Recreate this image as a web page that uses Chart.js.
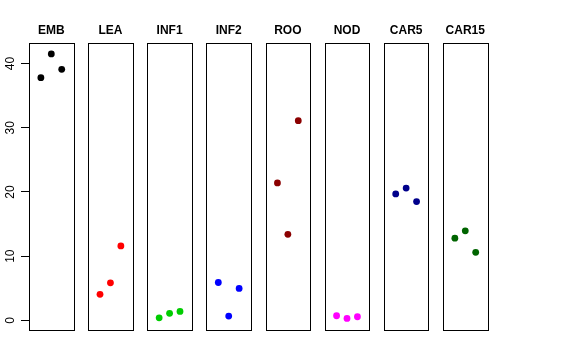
<!DOCTYPE html>
<html>
<head>
<meta charset="utf-8">
<script src="https://cdn.jsdelivr.net/npm/chart.js@4/dist/chart.umd.min.js"></script>
<style>
  html, body { margin: 0; padding: 0; background: #ffffff; }
  #wrap { position: relative; width: 576px; height: 360px; overflow: hidden; }
  #wrap canvas { position: absolute; top: 0; }
</style>
</head>
<body>
<div id="wrap"></div>
<script>
// ---- data ----
const categories = ['EMB', 'LEA', 'INF1', 'INF2', 'ROO', 'NOD', 'CAR5', 'CAR15'];
const replicates = [1, 2, 3];
const EMB   = [37.8, 41.5, 39.1];
const LEA   = [4.05, 5.85, 11.6];
const INF1  = [0.40, 1.09, 1.40];
const INF2  = [5.90, 0.67, 4.98];
const ROO   = [21.4, 13.4, 31.1];
const NOD   = [0.72, 0.31, 0.56];
const CAR5  = [19.7, 20.6, 18.5];
const CAR15 = [12.8, 13.95, 10.6];
const yTickValues = [0, 10, 20, 30, 40];

// ---- styling ----
const seriesValues = [EMB, LEA, INF1, INF2, ROO, NOD, CAR5, CAR15];
const colors = ['#000000', '#ff0000', '#00cd00', '#0000ff', '#8b0000', '#ff00ff', '#00008b', '#006400'];
const H = 360;
const FONT = "'Liberation Sans', Arial, Helvetica, sans-serif";
const firstLeft = 29.0, step = 59.14, boxW = 44.6;
const boxTop = 43, boxBottom = 330;
const yMin = -1.5, yMax = 43.2;
const titleY = 30.5;

const boxPlugin = {
  id: 'boxPlugin',
  afterDraw(chart, args, opts) {
    const a = chart.chartArea, ctx = chart.ctx;
    ctx.save();
    ctx.strokeStyle = '#000000';
    ctx.lineWidth = 1;
    const l = Math.round(a.left) + 0.5, r = Math.round(a.right) + 0.5;
    const t = Math.round(a.top) + 0.5, b = Math.round(a.bottom) + 0.5;
    ctx.strokeRect(l, t, r - l, b - t);
    // panel title
    ctx.fillStyle = '#000000';
    ctx.font = 'bold 12px ' + FONT;
    ctx.textAlign = 'center';
    ctx.textBaseline = 'middle';
    ctx.fillText(opts.title, (a.left + a.right) / 2, titleY);
    ctx.restore();
  }
};

const yLabelPlugin = {
  id: 'yLabelPlugin',
  afterDraw(chart, args, opts) {
    if (!opts.show) return;
    const ys = chart.scales.y, ctx = chart.ctx;
    ctx.save();
    ctx.fillStyle = '#000000';
    ctx.font = '12px ' + FONT;
    ctx.textAlign = 'center';
    ctx.textBaseline = 'alphabetic';
    ys.ticks.forEach(t => {
      const py = ys.getPixelForValue(t.value);
      ctx.save();
      ctx.translate(13.5, py);
      ctx.rotate(-Math.PI / 2);
      ctx.fillText(String(t.value), 0, 0);
      ctx.restore();
    });
    ctx.restore();
  }
};

const wrap = document.getElementById('wrap');
categories.forEach((cat, i) => {
  const first = i === 0;
  const left = firstLeft + step * i;
  const right = left + boxW;
  const cLeft = first ? 0 : Math.floor(left) - 10;
  const cW = first ? 90 : 66;
  const cv = document.createElement('canvas');
  cv.width = cW; cv.height = H;
  cv.style.width = cW + 'px'; cv.style.height = H + 'px';
  cv.style.left = cLeft + 'px';
  wrap.appendChild(cv);
  new Chart(cv, {
    type: 'scatter',
    data: {
      datasets: [{
        label: cat,
        data: replicates.map((x, k) => ({ x: x, y: seriesValues[i][k] })),
        backgroundColor: colors[i],
        borderColor: colors[i],
        borderWidth: 0,
        pointRadius: 3.4,
        pointHoverRadius: 3.4
      }]
    },
    options: {
      responsive: false,
      animation: false,
      devicePixelRatio: 1,
      events: [],
      layout: {
        autoPadding: false,
        padding: { left: first ? 0 : left - cLeft, right: cLeft + cW - right, top: boxTop, bottom: H - boxBottom }
      },
      plugins: {
        legend: { display: false },
        tooltip: { enabled: false },
        title: { display: false },
        boxPlugin: { title: cat },
        yLabelPlugin: { show: first }
      },
      scales: {
        x: { type: 'linear', display: false, min: -0.14, max: 4.14 },
        y: {
          type: 'linear',
          display: first,
          position: 'left',
          min: yMin, max: yMax,
          afterFit(scale) { scale.width = first ? firstLeft : 0; },
          afterBuildTicks(scale) { scale.ticks = yTickValues.map(v => ({ value: v })); },
          ticks: { display: false, includeBounds: false },
          grid: { drawOnChartArea: false, drawTicks: true, tickLength: 8, color: '#000000', lineWidth: 1 },
          border: { display: false }
        }
      }
    },
    plugins: [boxPlugin, yLabelPlugin]
  });
});
</script>
</body>
</html>
